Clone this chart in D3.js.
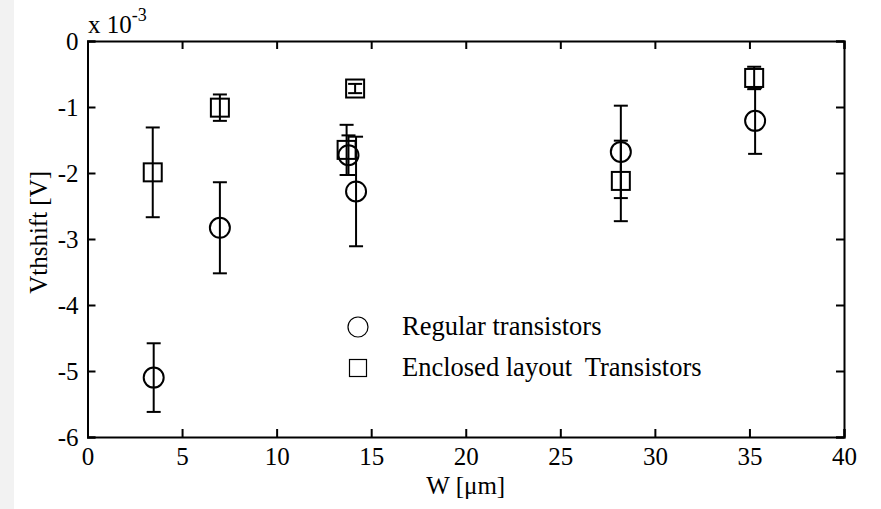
<!doctype html>
<html>
<head>
<meta charset="utf-8">
<title>Vthshift vs W</title>
<style>
  body { margin:0; background:#fff; }
  svg { display:block; font-family:"Liberation Serif", "Times New Roman", serif; }
  .axis path, .axis line { stroke:#000; stroke-width:2px; }
  .axis text { font-size:25px; fill:#000; font-family:"Liberation Serif", "Times New Roman", serif; }
  .mark { fill:none; stroke:#000; stroke-width:2px; }
  .err { stroke:#000; stroke-width:2px; }
  .legend text { white-space:pre; }
</style>
<script src="https://cdn.jsdelivr.net/npm/d3@7"></script>
</head>
<body>
<svg id="chart" width="881" height="509"></svg>
<script>
  // values in units of 1e-3 V
  var regW   = [3.5, 7.0, 13.8, 14.2, 28.2, 35.3]
  var regV   = [-5.10, -2.83, -1.73, -2.28, -1.68, -1.21]
  var regErr = [0.52, 0.69, 0.30, 0.83, 0.70, 0.50]

  var encW   = [3.45, 7.0, 13.7, 14.15, 28.2, 35.25]
  var encV   = [-1.99, -1.01, -1.65, -0.72, -2.12, -0.56]
  var encErr = [0.68, 0.20, 0.38, 0.07, 0.61, 0.17]

  var xTicks = [0, 5, 10, 15, 20, 25, 30, 35, 40]
  var yTicks = [0, -1, -2, -3, -4, -5, -6]
  var legendNames = ["Regular transistors", "Enclosed layout  Transistors"]

  var svg = d3.select("#chart")

  // grey strip on the left edge
  svg.append("rect").attr("x", 0).attr("y", 0).attr("width", 14).attr("height", 509).attr("fill", "#f2f2f2")

  var x = d3.scaleLinear().domain([0, 40]).range([87.5, 844])
  var y = d3.scaleLinear().domain([-6, 0]).range([437, 41])

  var serif = "Liberation Serif, Times New Roman, serif"

  svg.append("g").attr("class", "axis").attr("font-family", serif)
     .attr("transform", "translate(0,437)")
     .call(d3.axisBottom(x).tickValues(xTicks).tickSize(-8).tickPadding(10).tickFormat(d3.format("d")))
  svg.append("g").attr("class", "axis")
     .attr("transform", "translate(0,41)")
     .call(d3.axisTop(x).tickValues(xTicks).tickSize(-8).tickFormat(""))
  svg.append("g").attr("class", "axis").attr("font-family", serif)
     .attr("transform", "translate(87.5,0)")
     .call(d3.axisLeft(y).tickValues(yTicks).tickSize(-8).tickPadding(9).tickFormat(function(d){ return d === 0 ? "0" : "-" + Math.abs(d) }))
  svg.append("g").attr("class", "axis")
     .attr("transform", "translate(844,0)")
     .call(d3.axisRight(y).tickValues(yTicks).tickSize(-8).tickFormat(""))

  svg.selectAll(".axis .domain").attr("stroke-width", 2.5)

  // exponent label
  var ex = svg.append("text").attr("x", 88).attr("y", 33).attr("font-size", 25).text("x 10")
  ex.append("tspan").attr("dy", -12).attr("font-size", 18).text("-3")

  // axis titles
  svg.append("text").attr("x", x(20)).attr("y", 494).attr("text-anchor", "middle").attr("font-size", 25).text("W [μm]")
  svg.append("text").attr("transform", "translate(47," + y(-2.9) + ") rotate(-90)")
     .attr("text-anchor", "middle").attr("font-size", 25).text("Vthshift [V]")

  function errorBars(W, V, E) {
    var g = svg.append("g")
    W.forEach(function(w, i){
      var cx = x(w), top = y(V[i] + E[i]), bot = y(V[i] - E[i])
      g.append("line").attr("class", "err").attr("x1", cx).attr("x2", cx).attr("y1", top).attr("y2", bot)
      g.append("line").attr("class", "err").attr("x1", cx - 7).attr("x2", cx + 7).attr("y1", top).attr("y2", top)
      g.append("line").attr("class", "err").attr("x1", cx - 7).attr("x2", cx + 7).attr("y1", bot).attr("y2", bot)
    })
  }

  errorBars(regW, regV, regErr)
  errorBars(encW, encV, encErr)

  svg.append("g").selectAll("circle").data(regW).enter()
     .append("circle").attr("class", "mark")
     .attr("cx", function(d){ return x(d) })
     .attr("cy", function(d, i){ return y(regV[i]) })
     .attr("r", 10)

  svg.append("g").selectAll("rect").data(encW).enter()
     .append("rect").attr("class", "mark")
     .attr("x", function(d){ return x(d) - 9 })
     .attr("y", function(d, i){ return y(encV[i]) - 9 })
     .attr("width", 18).attr("height", 18)

  // legend
  var lg = svg.append("g").attr("class", "legend")
  lg.append("circle").attr("cx", 358).attr("cy", 327).attr("r", 10).attr("fill", "none").attr("stroke", "#000").attr("stroke-width", 1.2)
  lg.append("rect").attr("x", 349.5).attr("y", 359.5).attr("width", 17).attr("height", 17).attr("fill", "none").attr("stroke", "#000").attr("stroke-width", 1.2)
  lg.selectAll("text").data(legendNames).enter()
    .append("text").attr("x", 402).attr("y", function(d, i){ return 335 + i * 41 })
    .attr("font-size", 26.5).text(function(d){ return d })
</script>
</body>
</html>
